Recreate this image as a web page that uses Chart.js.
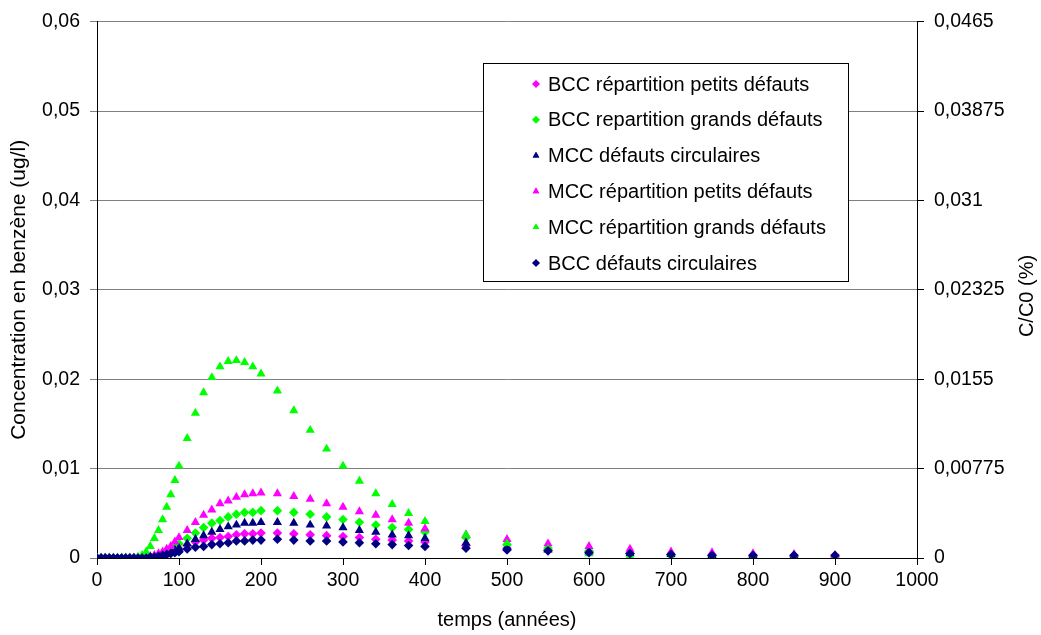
<!DOCTYPE html>
<html>
<head>
<meta charset="utf-8">
<script src="https://cdn.jsdelivr.net/npm/chart.js@4.4.1/dist/chart.umd.min.js"></script>
<style>
  body { margin: 0; background: #fff; }
  #wrap { width: 1041px; height: 635px; }
</style>
</head>
<body>
<div id="wrap"><canvas id="myChart" width="1041" height="635"></canvas></div>
<script>
// time steps (years)
let temps = [0, 5, 10, 15, 20, 25, 30, 35, 40, 45, 50, 55, 60, 65, 70, 75, 80, 85, 90, 95, 100,
  110, 120, 130, 140, 150, 160, 170, 180, 190, 200,
  220, 240, 260, 280, 300, 320, 340, 360, 380, 400,
  450, 500, 550, 600, 650, 700, 750, 800, 850, 900];

let bccPetits = [0, 0, 0, 0, 0, 0, 0, 0, 0, 0, 0, 0, 0, 0, 0.0001, 0.0002, 0.0003, 0.0004, 0.0006, 0.0008, 0.0010,
  0.0014, 0.0018, 0.0020, 0.0022, 0.0023, 0.0024, 0.0026, 0.0027, 0.0027, 0.0028,
  0.0028, 0.0027, 0.0026, 0.0025, 0.0024, 0.0023, 0.0021, 0.0020, 0.0019, 0.0018,
  0.0014, 0.0011, 0.0009, 0.0007, 0.0005, 0.0004, 0.0003, 0.0003, 0.0002, 0.0002];

let bccGrands = [0, 0, 0, 0, 0, 0, 0, 0, 0, 0, 0, 0, 0, 0.0001, 0.0002, 0.0003, 0.0004, 0.0006, 0.0009, 0.0012, 0.0016,
  0.0022, 0.0028, 0.0034, 0.0039, 0.0042, 0.0046, 0.0049, 0.0051, 0.0051, 0.0053,
  0.0053, 0.0051, 0.0049, 0.0046, 0.0043, 0.0040, 0.0037, 0.0034, 0.0032, 0.0029,
  0.0023, 0.0015, 0.0011, 0.0008, 0.0005, 0.0003, 0.0002, 0.0002, 0.0001, 0.0001];

let mccCirc = [0, 0, 0, 0, 0, 0, 0, 0, 0, 0, 0, 0, 0, 0, 0.0001, 0.0002, 0.0003, 0.0005, 0.0007, 0.0009, 0.0011,
  0.0016, 0.0021, 0.0025, 0.0029, 0.0032, 0.0035, 0.0037, 0.0039, 0.0039, 0.0040,
  0.0040, 0.0039, 0.0037, 0.0036, 0.0034, 0.0031, 0.0029, 0.0026, 0.0025, 0.0022,
  0.0017, 0.0012, 0.0009, 0.0007, 0.0005, 0.0004, 0.0003, 0.0003, 0.0002, 0.0002];

let mccPetits = [0, 0, 0, 0, 0, 0, 0, 0, 0, 0, 0, 0, 0.0001, 0.0002, 0.0003, 0.0005, 0.0007, 0.0010, 0.0013, 0.0018, 0.0023,
  0.0031, 0.0040, 0.0048, 0.0054, 0.0061, 0.0064, 0.0068, 0.0071, 0.0072, 0.0073,
  0.0072, 0.0069, 0.0066, 0.0061, 0.0057, 0.0052, 0.0048, 0.0043, 0.0039, 0.0033,
  0.0026, 0.0021, 0.0016, 0.0013, 0.0010, 0.0007, 0.0006, 0.0005, 0.0004, 0.0003];

let mccGrands = [0, 0, 0, 0, 0, 0, 0, 0, 0, 0, 0.0001, 0.0003, 0.0007, 0.0013, 0.0022, 0.0031, 0.0043, 0.0057, 0.0071, 0.0087, 0.0103,
  0.0134, 0.0162, 0.0185, 0.0202, 0.0214, 0.0220, 0.0221, 0.0219, 0.0214, 0.0206,
  0.0187, 0.0165, 0.0143, 0.0122, 0.0103, 0.0086, 0.0072, 0.0060, 0.0050, 0.0041,
  0.0026, 0.0016, 0.0010, 0.0005, 0.0002, 0.0001, 0, 0, 0, 0];

let bccCirc = [0, 0, 0, 0, 0, 0, 0, 0, 0, 0, 0, 0, 0, 0.0001, 0.0001, 0.0002, 0.0003, 0.0004, 0.0005, 0.0006, 0.0007,
  0.0010, 0.0012, 0.0013, 0.0015, 0.0016, 0.0017, 0.0019, 0.0019, 0.0020, 0.0020,
  0.0021, 0.0020, 0.0019, 0.0019, 0.0018, 0.0017, 0.0016, 0.0015, 0.0014, 0.0013,
  0.0011, 0.0009, 0.0008, 0.0006, 0.0005, 0.0004, 0.0003, 0.0003, 0.0003, 0.0003];

let seriesNames = [
  "BCC répartition petits défauts",
  "BCC repartition grands défauts",
  "MCC défauts circulaires",
  "MCC répartition petits défauts",
  "MCC répartition grands défauts",
  "BCC défauts circulaires"
];
let seriesValues = [bccPetits, bccGrands, mccCirc, mccPetits, mccGrands, bccCirc];
let seriesColors = ["#ff00ff", "#00ff00", "#000080", "#ff00ff", "#00ff00", "#000080"];
let seriesShapes = ["rectRot", "rectRot", "triangle", "triangle", "triangle", "rectRot"];

let leftTicks = [0, 0.01, 0.02, 0.03, 0.04, 0.05, 0.06];
let leftLabels = ["0", "0,01", "0,02", "0,03", "0,04", "0,05", "0,06"];
let rightTicks = [0, 0.00775, 0.0155, 0.02325, 0.031, 0.03875, 0.0465];
let rightLabels = ["0", "0,00775", "0,0155", "0,02325", "0,031", "0,03875", "0,0465"];

const FONT = "'Liberation Sans', Arial, sans-serif";
const TICK_FONT = { family: FONT, size: 19.5 };

let datasets = seriesNames.map((name, i) => ({
  label: name,
  data: temps.map((t, k) => ({ x: t, y: seriesValues[i][k] })),
  pointStyle: seriesShapes[i],
  pointRadius: seriesShapes[i] === "triangle" ? 5.3 : 4.8,
  pointBackgroundColor: seriesColors[i],
  pointBorderColor: seriesColors[i],
  pointBorderWidth: 0,
  showLine: false,
  // later series sit on top of earlier ones
  order: -i,
}));

// boxed legend inside the plot + right axis title (reads bottom to top)
const extras = {
  id: "extras",
  afterDatasetsDraw(chart) {
    const ctx = chart.ctx;
    const x0 = 483.5, y0 = 63.5, w = 365, h = 218;
    ctx.save();
    ctx.fillStyle = "#fff";
    ctx.fillRect(x0, y0, w, h);
    ctx.strokeStyle = "#000";
    ctx.lineWidth = 1;
    ctx.strokeRect(x0, y0, w, h);
    ctx.font = "20px " + FONT;
    ctx.textBaseline = "middle";
    seriesNames.forEach((name, i) => {
      const y = 84 + i * 35.8;
      ctx.fillStyle = seriesColors[i];
      ctx.beginPath();
      Chart.helpers.drawPoint(ctx, { pointStyle: seriesShapes[i], radius: 3.8, rotation: 0, borderWidth: 0 }, 536, y);
      ctx.fill();
      ctx.fillStyle = "#000";
      ctx.fillText(name, 548, y + 1);
    });

    ctx.translate(1027, 296);
    ctx.rotate(-Math.PI / 2);
    ctx.textAlign = "center";
    ctx.fillText("C/C0 (%)", 0, 0);
    ctx.restore();
  }
};

const ctx = document.getElementById("myChart").getContext("2d");
const myChart = new Chart(ctx, {
  type: "scatter",
  data: { datasets: datasets },
  plugins: [extras],
  options: {
    responsive: false,
    animation: false,
    layout: { padding: { top: 18, left: 0, right: 0, bottom: 0 } },
    plugins: {
      legend: { display: false },
      tooltip: { enabled: false },
    },
    scales: {
      x: {
        type: "linear",
        min: 0,
        max: 1000,
        ticks: { stepSize: 100, color: "#000", font: TICK_FONT, padding: 4, maxRotation: 0, callback: (v) => String(v) },
        grid: { drawOnChartArea: false, color: "#000", tickLength: 7 },
        border: { color: "#000" },
        title: { display: true, text: "temps (années)", color: "#000", font: { family: FONT, size: 20 }, padding: { top: 0, bottom: 3 } },
        afterFit(scale) { scale.height = 77; },
      },
      y: {
        position: "left",
        min: 0,
        max: 0.06,
        afterBuildTicks(scale) { scale.ticks = leftTicks.map((v) => ({ value: v })); },
        ticks: {
          color: "#000",
          font: TICK_FONT,
          padding: 10,
          callback: (value, index) => leftLabels[index],
        },
        grid: { color: "#808080", tickLength: 7 },
        border: { color: "#000" },
        title: { display: true, text: "Concentration en benzène (ug/l)", color: "#000", font: { family: FONT, size: 21 }, padding: { top: 7, bottom: 0 } },
        afterFit(scale) { scale.width = 97; },
      },
      y2: {
        position: "right",
        min: 0,
        max: 0.0465,
        afterBuildTicks(scale) { scale.ticks = rightTicks.map((v) => ({ value: v })); },
        ticks: {
          color: "#000",
          font: TICK_FONT,
          padding: 10,
          callback: (value, index) => rightLabels[index],
        },
        grid: { drawOnChartArea: false, color: "#000", tickLength: 7 },
        border: { color: "#000" },
        afterFit(scale) { scale.width = 124; },
      },
    },
  },
});
</script>
</body>
</html>
